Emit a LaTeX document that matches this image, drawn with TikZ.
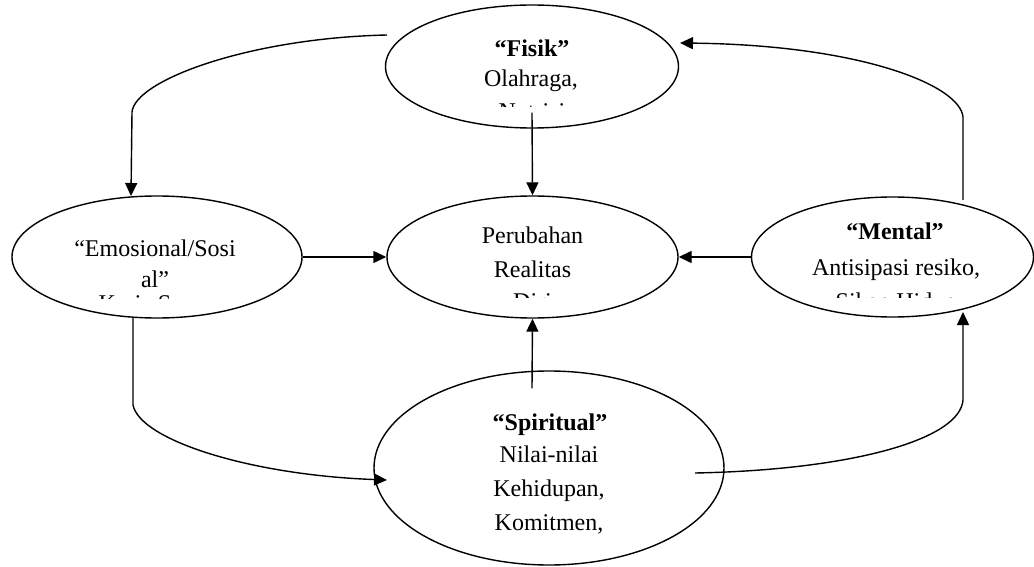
\documentclass[tikz,border=0pt]{standalone}
\usepackage{fontspec}
\setmainfont{Liberation Serif}
\usetikzlibrary{shapes.geometric,arrows.meta,calc}
\begin{document}
\begin{tikzpicture}[x=1pt,y=-1pt,
  ell/.style={draw,ellipse,line width=1.4pt,inner sep=0pt},
  lbl/.style={font=\fontsize{24}{30}\selectfont,inner sep=0pt,anchor=base},
  conn/.style={line width=1.4pt,-{Triangle[length=13pt,width=12pt]}},
  plain/.style={line width=1.4pt}
]
\useasboundingbox (0,0) rectangle (1034,567);

% ellipses
\node[ell,minimum width=293pt,minimum height=123pt] (fis) at (532,66.5) {};
\node[ell,minimum width=290pt,minimum height=122pt] (emo) at (157,257) {};
\node[ell,minimum width=291pt,minimum height=122pt] (per) at (532.5,257) {};
\node[ell,minimum width=282pt,minimum height=120pt] (men) at (892.5,257) {};
\node[ell,minimum width=350pt,minimum height=194pt] (spi) at (549,468) {};

% texts (clipped as in the original)
\begin{scope}
  \clip (380,0) rectangle (690,107);
  \node[lbl] (fis1) at (532,57) {\textbf{“Fisik”}};
  \node[lbl] (fis2) at (531,87) {Olahraga,};
  \node[lbl] (fis3) at (532,120) {Nutrisi};
\end{scope}
\begin{scope}
  \clip (0,190) rectangle (310,298);
  \node[lbl] (emo1) at (155,256) {“Emosional/Sosi};
  \node[lbl] (emo2) at (155,287) {al”};
  \node[lbl] (emo3) at (155,311) {Kerja Sama};
\end{scope}
\begin{scope}
  \clip (380,190) rectangle (690,297);
  \node[lbl] (per1) at (532.5,243) {Perubahan};
  \node[lbl] (per2) at (532.5,277.5) {Realitas};
  \node[lbl] (per3) at (532.5,309) {Diri};
\end{scope}
\begin{scope}
  \clip (745,190) rectangle (1034,297);
  \node[lbl] (men1) at (895,239) {\textbf{“Mental”}};
  \node[lbl] (men2) at (896,275) {Antisipasi resiko,};
  \node[lbl] (men3) at (896,309) {Sikap Hidup};
\end{scope}
\node[lbl] (spi1) at (550,430) {\textbf{“Spiritual”}};
\node[lbl] (spi2) at (549,462) {Nilai-nilai};
\node[lbl] (spi3) at (549,496.5) {Kehidupan,};
\node[lbl] (spi4) at (549,530) {Komitmen,};

% connector end points
\coordinate (fisS) at ($(fis.south)+(0,-16)$);
\coordinate (spiN) at ($(spi.north)+(-17,18)$);
\coordinate (fisL) at (387,35);
\coordinate (emoT) at (131,196);
\coordinate (menT) at (963,200);
\coordinate (fisR) at (680,43);
\coordinate (emoB) at (133,318);
\coordinate (spiL) at (387,480);
\coordinate (spiR) at (695,473);
\coordinate (menB) at (963,312);

% straight connectors to the centre
\draw[conn] (fisS) -- (per.north);
\draw[conn] (emo.east) -- (per.west);
\draw[conn] (men.west) -- (per.east);
\draw[conn] (spiN) -- (per.south);

% outer cycle
\draw[conn] (fisL) .. controls (250,38) and (135,80) .. (132,112) -- (emoT);
\draw[conn] (menT) -- (963,117) .. controls (960,85) and (860,45) .. (fisR);
\draw[conn] (emoB) -- (133,405) .. controls (140,440) and (250,475) .. (spiL);
\draw[conn] (spiR) .. controls (850,470) and (960,440) .. (963,400) -- (menB);
\end{tikzpicture}
\end{document}
